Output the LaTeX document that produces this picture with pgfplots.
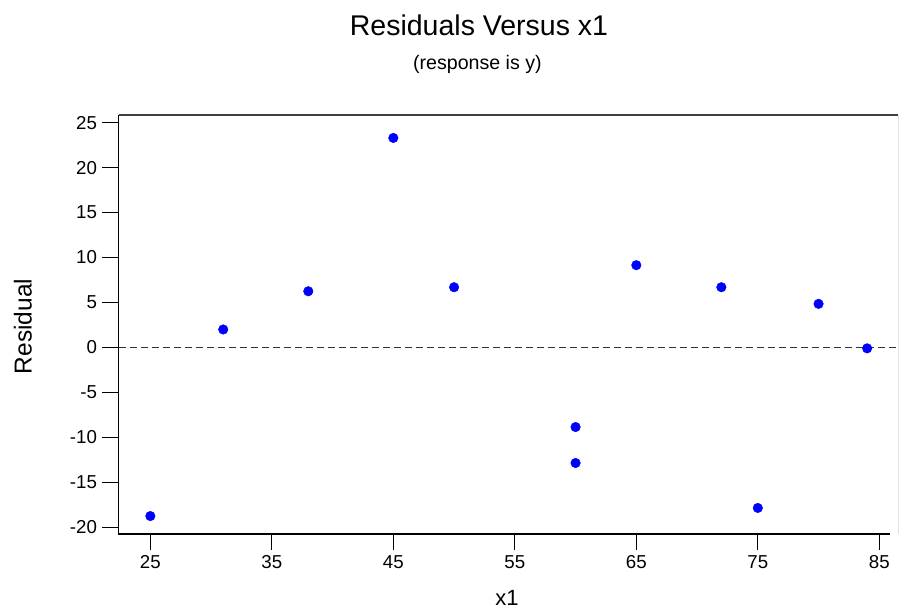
\documentclass[border=0pt]{standalone}
\usepackage{fontspec}
\setmainfont{Liberation Sans}
\usepackage{pgfplots}
\pgfplotsset{compat=1.18}
\begin{document}
\begin{tikzpicture}[x=1bp,y=1bp]
\useasboundingbox (0,0) rectangle (899,611);
\begin{axis}[
  at={(118.5bp,77bp)}, anchor=south west,
  scale only axis, width=779.5bp, height=418.7bp,
  xmin=22.38, xmax=86.54, ymin=-20.745, ymax=25.82,
  axis line style={draw=none},
  xtick={25,35,...,85}, ytick={-20,-15,...,25},
  tick align=outside, xtick pos=bottom, ytick pos=left,
  major tick length=16bp,
  tick style={black, line width=1bp},
  /pgf/number format/assume math mode=true,
  ticklabel style={font=\fontsize{18.7bp}{22bp}\selectfont},
  xticklabel style={yshift=-2bp},
  yticklabel style={xshift=-2bp},
  clip=false,
]
\addplot[draw=black!80, line width=1.6bp, dash pattern=on 7bp off 4bp, forget plot] coordinates {(22.38,0) (86.54,0)};
\addplot[only marks, mark=*, mark size=4.8bp, mark options={draw=blue, fill=blue}] coordinates {
(25,-18.75) (31,2.0) (38,6.25) (45,23.3) (50,6.7) (60,-8.85) (60,-12.85) (65,9.15) (72,6.7) (75,-17.85) (80,4.85) (84,-0.1)
};
\draw[black!75, line width=1.6bp] (rel axis cs:0,1) -- (rel axis cs:1,1);
\draw[black!12, line width=1bp] (rel axis cs:1,1) -- (rel axis cs:1,0);
\draw[black, line width=1.6bp] (rel axis cs:0,1) -- (rel axis cs:0,0) -- (axis cs:85.88,-20.745);
\end{axis}
\node[anchor=base, font=\fontsize{28.5bp}{32bp}\selectfont, inner sep=0] at (479,575) {Residuals Versus x1};
\node[anchor=base, font=\fontsize{19.6bp}{22bp}\selectfont, inner sep=0] at (477.4,541) {(response is y)};
\node[anchor=base, font=\fontsize{22bp}{26bp}\selectfont, inner sep=0] at (507,5) {x1};
\node[anchor=base, rotate=90, font=\fontsize{24.5bp}{28bp}\selectfont, inner sep=0] at (31.7,284.5) {Residual};
\end{tikzpicture}
\end{document}
